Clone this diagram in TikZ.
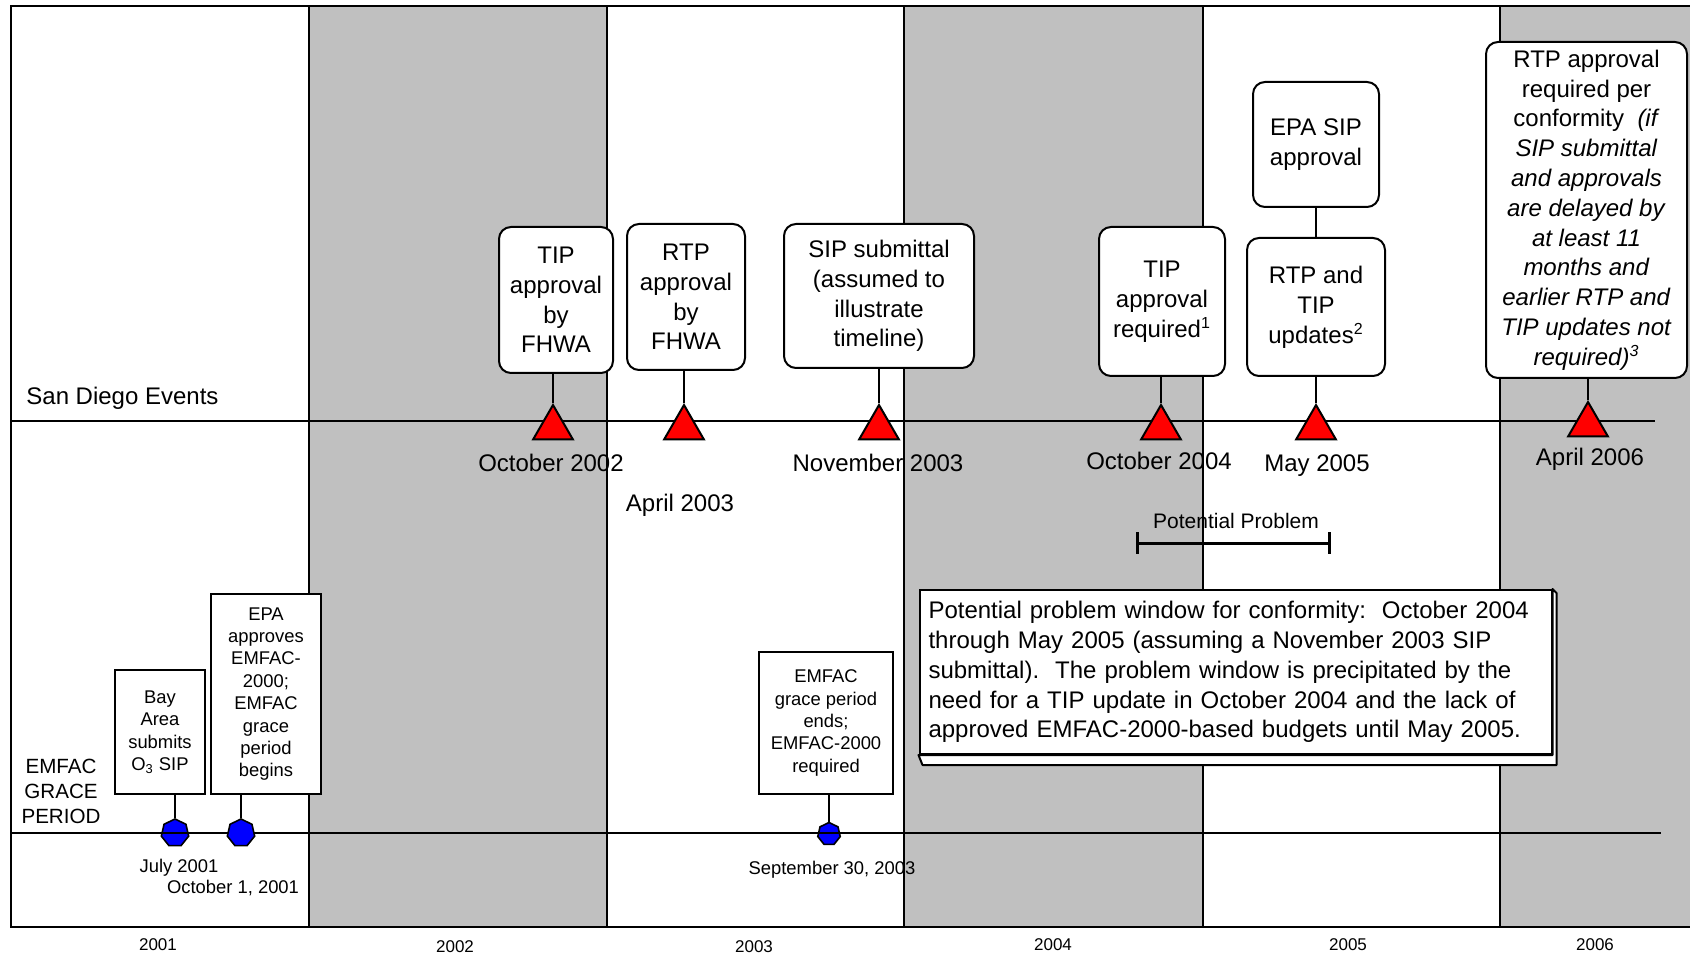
\documentclass[tikz,border=0pt]{standalone}
\usepackage{fontspec}
\setmainfont{Liberation Sans}
\usetikzlibrary{shapes.geometric,calc}
\definecolor{yeargrey}{RGB}{192,192,192}
\definecolor{eventred}{RGB}{255,0,0}
\definecolor{graceblue}{RGB}{0,0,255}

\begin{document}
\begin{tikzpicture}[x=0.5pt,y=-0.5pt,
  frame/.style={line width=1.1pt},
  track/.style={line width=1pt},
  stem/.style={line width=1pt},
  eventbox/.style={draw, line width=1pt, fill=white, rounded corners=6pt,
    align=center, inner sep=0pt, font=\fontsize{12}{14.9}\selectfont},
  gracebox/.style={draw, line width=1pt, fill=white, align=center,
    inner sep=0pt, font=\fontsize{9.2}{11.2}\selectfont},
  eventmark/.style={regular polygon, regular polygon sides=3, draw,
    line width=1pt, fill=eventred, minimum size=23pt, inner sep=0pt},
  gracemark/.style={regular polygon, regular polygon sides=7, draw,
    line width=0.8pt, fill=graceblue, minimum size=14pt, inner sep=0pt},
  datelabel/.style={font=\fontsize{12}{14}\selectfont, inner sep=0pt},
  smalldate/.style={font=\fontsize{9.2}{11}\selectfont, inner sep=0pt},
  yearlabel/.style={font=\fontsize{8.5}{10}\selectfont, inner sep=0pt},
  rowlabel/.style={font=\fontsize{12}{14}\selectfont, inner sep=0pt}
]
\useasboundingbox (0,0) rectangle (1690,956);

% shaded years
\fill[yeargrey] (309,6) rectangle (607,927);
\fill[yeargrey] (904,6) rectangle (1203,927);
\fill[yeargrey] (1500,6) rectangle (1690,927);

% outer frame and year dividers
\draw[frame] (1690,6) -- (11,6) -- (11,927) -- (1690,927);
\foreach \x in {309,607,904,1203,1500} \draw[frame] (\x,6) -- (\x,927);

% year labels
\node[yearlabel] (y2001) at (158,945) {2001};
\node[yearlabel] (y2002) at (455,947) {2002};
\node[yearlabel] (y2003) at (754,947) {2003};
\node[yearlabel] (y2004) at (1053,945) {2004};
\node[yearlabel] (y2005) at (1348,945) {2005};
\node[yearlabel] (y2006) at (1595,945) {2006};

% San Diego events track
\draw[track] (11,421) -- (1655,421);
\node[rowlabel, anchor=west] (sdlabel) at (26,398) {San Diego Events};

\node[eventbox, minimum width=57pt, minimum height=73pt] (tipfhwa) at (556,300)
  {TIP\\approval\\by\\FHWA};
\node[eventbox, minimum width=59pt, minimum height=73pt] (rtpfhwa) at (686,297)
  {RTP\\approval\\by\\FHWA};
\node[eventbox, minimum width=95pt, minimum height=72pt] (sipsub) at (879,296)
  {SIP submittal\\(assumed to\\illustrate\\timeline)};
\node[eventbox, minimum width=63pt, minimum height=74.5pt] (tipreq) at (1162,301.5)
  {TIP\\approval\\required\textsuperscript{1}};
\node[eventbox, minimum width=63pt, minimum height=62.5pt] (epasip) at (1316,144.5)
  {EPA SIP\\approval};
\node[eventbox, minimum width=69pt, minimum height=69pt] (rtptip) at (1316,307)
  {RTP and\\TIP\\updates\textsuperscript{2}};
\node[eventbox, minimum width=100.5pt, minimum height=168pt] (rtpconf) at (1586.5,210)
  {RTP approval\\required per\\conformity\ \ \textit{(if}\\\textit{SIP submittal}\\
   \textit{and approvals}\\\textit{are delayed by}\\\textit{at least 11}\\
   \textit{months and}\\\textit{earlier RTP and}\\\textit{TIP updates not}\\
   \textit{required)}\textsuperscript{\textit{3}}};

\node[eventmark] (m1) at (553,428) {};
\node[eventmark] (m2) at (684,428) {};
\node[eventmark] (m3) at (879,428) {};
\node[eventmark] (m4) at (1161,428) {};
\node[eventmark] (m5) at (1316,428) {};
\node[eventmark] (m6) at (1588,425) {};

\draw[stem] (m1.north) -- (m1.north |- tipfhwa.south);
\draw[stem] (m2.north) -- (m2.north |- rtpfhwa.south);
\draw[stem] (m3.north) -- (m3.north |- sipsub.south);
\draw[stem] (m4.north) -- (m4.north |- tipreq.south);
\draw[stem] (m5.north) -- (m5.north |- rtptip.south);
\draw[stem] (m6.north) -- (m6.north |- rtpconf.south);
\draw[stem] (epasip.south) -- (rtptip.north);

\node[datelabel] (d1) at (551,463) {October 2002};
\node[datelabel] (d2) at (680,505) {April 2003};
\node[datelabel] (d3) at (878,463) {November 2003};
\node[datelabel] (d4) at (1159,461) {October 2004};
\node[datelabel] (d5) at (1317,466) {May 2005};
\node[datelabel] (d6) at (1590,459) {April 2006};

% potential problem window
\node[font=\fontsize{10.5}{12}\selectfont, inner sep=0pt] (pp) at (1236,521) {Potential Problem};
\coordinate (ppl) at (1137,543);
\coordinate (ppr) at (1329,543);
\draw[line width=1.5pt] (ppl) -- (ppr);
\draw[line width=1.5pt] ($(ppl)+(0,-11)$) -- ($(ppl)+(0,11)$);
\draw[line width=1.5pt] ($(ppr)+(0,-11)$) -- ($(ppr)+(0,11)$);

\node[draw, fill=white, line width=1pt, minimum height=82pt, text width=307pt,
  inner xsep=4.5pt, inner ysep=0pt, align=left,
  font=\fontsize{12}{14.9}\selectfont] (note) at (1235.5,672)
  {Potential problem window for conformity:\ \ October 2004\\
   through May 2005 (assuming a November 2003 SIP\\
   submittal).\ \ The problem window is precipitated by the\\
   need for a TIP update in October 2004 and the lack of\\
   approved EMFAC-2000-based budgets until May 2005.};
\draw[line width=1pt, fill=white, line join=round]
  (note.north east) -- ($(note.north east)+(4,4)$) -- ($(note.south east)+(4,10)$)
  -- ($(note.south west)+(4,10)$) -- (note.south west) -- (note.south east) -- cycle;

% EMFAC grace period track
\node[font=\fontsize{10.3}{12.5}\selectfont, align=center, inner sep=0pt] (gplabel) at (61,791)
  {EMFAC\\GRACE\\PERIOD};

\node[gracebox, minimum width=45pt, minimum height=62pt] (bayarea) at (160,732)
  {Bay\\Area\\submits\\O\textsubscript{3} SIP};
\node[gracebox, minimum width=55pt, minimum height=100pt] (epaemfac) at (266,694)
  {EPA\\approves\\EMFAC-\\2000;\\EMFAC\\grace\\period\\begins};
\node[gracebox, minimum width=67pt, minimum height=71pt] (graceend) at (826,723)
  {EMFAC\\grace period\\ends;\\EMFAC-2000\\required};

\node[gracemark] (g1) at (175,833) {};
\node[gracemark, minimum size=11.5pt] (g3) at (829,834) {};
\draw[track] (11,833) -- (1661,833);
\node[gracemark] (g2) at (241,833) {};

\draw[stem] (g1.north) -- (g1.north |- bayarea.south);
\draw[stem] (g2.north) -- (g2.north |- epaemfac.south);
\draw[stem] (g3.north) -- (g3.north |- graceend.south);

\node[smalldate] (gd1) at (179,868) {July 2001};
\node[smalldate] (gd2) at (233,888) {October 1, 2001};
\node[smalldate] (gd3) at (832,870) {September 30, 2003};
\end{tikzpicture}
\end{document}
